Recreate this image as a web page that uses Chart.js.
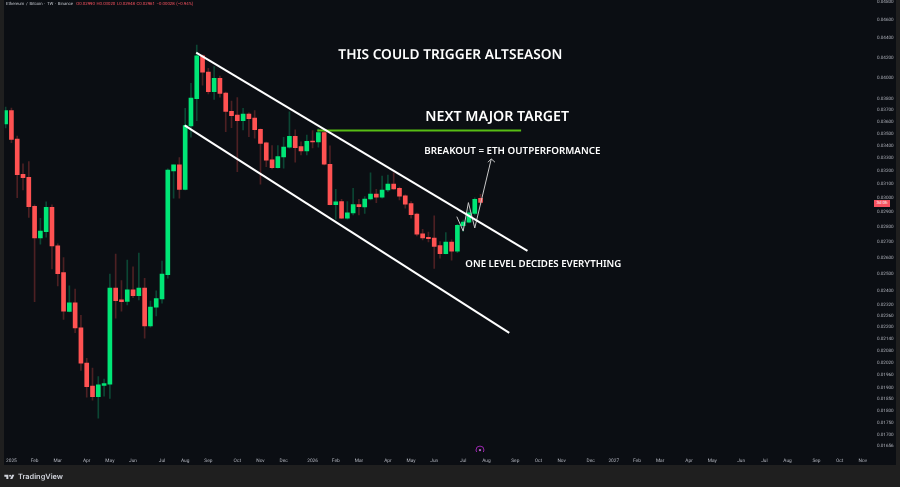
<!DOCTYPE html>
<html>
<head>
<meta charset="utf-8">
<script src="https://cdn.jsdelivr.net/npm/chart.js@4"></script>
<style>
  html, body { margin: 0; padding: 0; width: 900px; height: 487px; overflow: hidden; background: #1f1f1f; text-rendering: geometricPrecision; }
  #panel { position: absolute; left: 4px; top: 0; width: 892px; height: 465px; background: #0b0e13; }
  #wrap { position: absolute; left: 0; top: 0; width: 900px; height: 487px; }
  #header { position: absolute; left: 6px; top: 2px; font: 4.3px Roboto, sans-serif; color: #c4c7ce; white-space: pre; word-spacing: 0.6px; }
  #header span { color: #f7525f; margin-left: 1.5px; }
  #countdown { position: absolute; left: 874px; top: 200px; width: 16px; height: 7px; background: #f7525f; color: #fff; font: 4.4px/7px Roboto, sans-serif; text-align: center; }
  #brand { position: absolute; left: 4px; top: 470px; height: 13px; display: flex; align-items: center; font: 600 7.4px Inter, sans-serif; color: #d1d4dc; }
  #brand svg { width: 11px; height: 8px; margin-right: 3px; }
</style>
</head>
<body>
<div id="panel"></div>
<div id="wrap"><canvas id="chart" width="900" height="487"></canvas></div>
<div id="header">Ethereum / Bitcoin · 1W · Binance <span>O0.02990 H0.03020 L0.02948 C0.02961 −0.00028 (−0.94%)</span></div>
<div id="countdown">3d 0h</div>
<div id="brand">
  <svg viewBox="0 0 36 28"><path fill="#d1d4dc" d="M14 6H0v7h7v8h7V6Zm14 15h-8l7-15h8l-7 15ZM20 13a3.5 3.5 0 1 0 0-7 3.5 3.5 0 0 0 0 7Z"/></svg>
  TradingView
</div>
<script>
/* ==== weekly candles ==== */
const openPrices = [0.03575,0.03690,0.03448,0.03168,0.03145,0.02934,0.02719,0.02760,0.02927,0.02668,0.02502,0.02280,0.02328,0.02192,0.02014,0.01906,0.01858,0.01909,0.01915,0.02412,0.02344,0.02336,0.02401,0.02368,0.02411,0.02202,0.02304,0.02349,0.02490,0.03193,0.03240,0.03056,0.03558,0.03798,0.04208,0.04048,0.03862,0.03988,0.03850,0.03684,0.03652,0.03603,0.03661,0.03626,0.03529,0.03417,0.03279,0.03219,0.03303,0.03380,0.03469,0.03385,0.03350,0.03431,0.03423,0.03501,0.03245,0.02946,0.02967,0.02851,0.02887,0.02946,0.02929,0.02986,0.03022,0.02999,0.03051,0.03095,0.03063,0.03008,0.02953,0.02880,0.02747,0.02724,0.02719,0.02670,0.02619,0.02692,0.02634,0.02800,0.02825,0.02885,0.02990];
const highPrices = [0.03723,0.03714,0.03473,0.03248,0.03266,0.02944,0.02851,0.02965,0.02944,0.02681,0.02594,0.02424,0.02405,0.02259,0.02038,0.01990,0.01950,0.01938,0.02494,0.02617,0.02455,0.02579,0.02538,0.02622,0.02469,0.02338,0.02395,0.02573,0.03209,0.03240,0.03297,0.03711,0.03940,0.04320,0.04218,0.04084,0.04101,0.04010,0.03859,0.03777,0.03807,0.03711,0.03672,0.03690,0.03532,0.03423,0.03393,0.03393,0.03462,0.03681,0.03524,0.03425,0.03481,0.03518,0.03532,0.03524,0.03391,0.03056,0.02984,0.02967,0.03063,0.02984,0.03003,0.03180,0.03056,0.03155,0.03162,0.03180,0.03073,0.03015,0.02967,0.02887,0.02776,0.02758,0.02867,0.02696,0.02754,0.02707,0.02809,0.02839,0.02908,0.02994,0.03020];
const lowPrices = [0.03540,0.03417,0.02996,0.03051,0.02857,0.02334,0.02679,0.02724,0.02524,0.02424,0.02237,0.02277,0.02167,0.01979,0.01856,0.01843,0.01765,0.01861,0.01851,0.02243,0.02282,0.02316,0.02357,0.02344,0.02138,0.02195,0.02255,0.02325,0.02469,0.02991,0.02991,0.03051,0.03462,0.03603,0.03924,0.03841,0.03792,0.03811,0.03509,0.03543,0.03188,0.03524,0.03467,0.03454,0.03093,0.03227,0.03209,0.03214,0.03214,0.03372,0.03261,0.03318,0.03318,0.03374,0.03380,0.03240,0.02944,0.02844,0.02848,0.02844,0.02873,0.02873,0.02885,0.02979,0.02960,0.02991,0.03039,0.03056,0.02979,0.02920,0.02851,0.02732,0.02707,0.02694,0.02528,0.02590,0.02617,0.02579,0.02625,0.02760,0.02819,0.02873,0.02948];
const closePrices = [0.03690,0.03445,0.03165,0.03142,0.02932,0.02719,0.02765,0.02927,0.02668,0.02496,0.02282,0.02328,0.02192,0.02014,0.01904,0.01858,0.01912,0.01918,0.02412,0.02340,0.02334,0.02401,0.02368,0.02411,0.02202,0.02304,0.02351,0.02493,0.03201,0.03240,0.03056,0.03560,0.03804,0.04208,0.04046,0.03862,0.03988,0.03847,0.03684,0.03646,0.03603,0.03661,0.03620,0.03526,0.03412,0.03277,0.03219,0.03305,0.03382,0.03470,0.03377,0.03350,0.03429,0.03423,0.03501,0.03245,0.02946,0.02965,0.02851,0.02889,0.02946,0.02932,0.02986,0.03022,0.02999,0.03051,0.03095,0.03058,0.03006,0.02949,0.02875,0.02745,0.02719,0.02715,0.02664,0.02619,0.02692,0.02634,0.02803,0.02825,0.02889,0.02984,0.02961];

/* ==== axis ticks ==== */
const priceTicks = [0.048,0.046,0.044,0.042,0.040,0.038,0.037,0.036,0.035,0.034,0.033,0.032,0.031,0.030,0.029,0.028,0.027,0.026,0.025,0.024,0.0232,0.0226,0.022,0.0214,0.0208,0.0202,0.0196,0.019,0.0185,0.018,0.0175,0.017,0.01656];
const monthWeeks = [1,5,9,14,18,22,27,31,35,40,44,48,53,57,61,66,70,74,79,83,88,92,96,101,105,109,113,118,122,127,131,135,140,144,148];
const monthLabels = ["2025","Feb","Mar","Apr","May","Jun","Jul","Aug","Sep","Oct","Nov","Dec","2026","Feb","Mar","Apr","May","Jun","Jul","Aug","Sep","Oct","Nov","Dec","2027","Feb","Mar","Apr","May","Jun","Jul","Aug","Sep","Oct","Nov"];

/* ==== drawings on the chart ==== */
const upperChannelWeeks = [32.9, 90.1];
const upperChannelPrices = [0.04241, 0.02636];
const lowerChannelWeeks = [30.9, 86.96];
const lowerChannelPrices = [0.03563, 0.02166];
const targetWeeks = [53.8, 89.0];
const targetPrices = [0.03519, 0.03519];
const pathWeeks = [77.9, 79.0, 79.9, 81.0, 83.85];
const pathPrices = [0.02862, 0.02765, 0.02960, 0.02785, 0.03287];
const arrowWeeks = [83.28, 83.85, 84.49];
const arrowPrices = [0.03261, 0.03287, 0.03261];
const noteTexts = ["THIS COULD TRIGGER ALTSEASON", "NEXT MAJOR TARGET", "BREAKOUT = ETH OUTPERFORMANCE", "ONE LEVEL DECIDES EVERYTHING"];
const noteWeeks = [57.45, 72.46, 72.29, 79.37];
const notePrices = [0.04218, 0.03635, 0.03350, 0.02555];
const noteSizes = [13.7, 14.2, 9.8, 9.7];

const GREEN = "#00e676", RED = "#ff5252";
const weeks = openPrices.map((_, i) => i);
const isUp = weeks.map(i => closePrices[i] >= openPrices[i]);

const line = (xs, ys, color, width) => ({
  type: "line", order: 0, data: xs.map((x, i) => ({ x, y: ys[i] })),
  borderColor: color, borderWidth: width, pointRadius: 0, tension: 0, fill: false
});

const notesPlugin = {
  id: "notes",
  beforeDraw(chart) { chart.ctx.textRendering = "geometricPrecision"; },
  afterDatasetsDraw(chart) {
    const { ctx, scales: { x, y } } = chart;
    ctx.save();
    ctx.fillStyle = "#ffffff";
    ctx.textBaseline = "middle";
    noteTexts.forEach((t, i) => {
      ctx.font = `600 ${noteSizes[i]}px "Noto Sans"`;
      ctx.fillText(t, x.getPixelForValue(noteWeeks[i]), y.getPixelForValue(notePrices[i]));
    });
    ctx.restore();
  }
};

new Chart(document.getElementById("chart"), {
  type: "bar",
  plugins: [notesPlugin],
  data: {
    datasets: [
      line(upperChannelWeeks, upperChannelPrices, "#ffffff", 2),
      line(lowerChannelWeeks, lowerChannelPrices, "#ffffff", 2),
      line(targetWeeks, targetPrices, "#58bd14", 2),
      line(pathWeeks, pathPrices, "#c9c9c9", 1),
      line(arrowWeeks, arrowPrices, "#c9c9c9", 1),
      // event marker on the time axis
      {
        type: "line", order: 0, showLine: false, data: [{ x: 81.9, y: 0.01635 }],
        pointRadius: 4, pointBorderWidth: 1, pointBorderColor: "#9c27b0", pointBackgroundColor: "transparent"
      },
      {
        type: "line", order: 0, showLine: false, data: [{ x: 81.9, y: 0.01635 }],
        pointRadius: 1.2, pointBorderWidth: 0, pointBackgroundColor: "#b05cc4"
      },
      {
        order: 1, grouped: false, barThickness: 4, borderSkipped: false,
        data: weeks.map(i => ({ x: i, y: [openPrices[i], closePrices[i]] })),
        backgroundColor: weeks.map(i => isUp[i] ? GREEN : RED)
      },
      {
        order: 2, grouped: false, barThickness: 1, borderSkipped: false,
        data: weeks.map(i => ({ x: i, y: [lowPrices[i], highPrices[i]] })),
        backgroundColor: weeks.map(i => isUp[i] ? "#0c4634" : "#4d2023")
      }
    ]
  },
  options: {
    responsive: false,
    animation: false,
    layout: { autoPadding: false, padding: { left: 4, right: 4, top: 0, bottom: 22 } },
    plugins: { legend: { display: false }, tooltip: { enabled: false } },
    scales: {
      x: {
        type: "linear",
        offset: false,
        min: -0.173,
        max: 149.93,
        grid: { display: false, drawTicks: false },
        border: { display: false },
        afterBuildTicks: s => { s.ticks = monthWeeks.map(value => ({ value })); },
        afterFit: s => { s.height = 13; },
        ticks: {
          autoSkip: false, maxRotation: 0, padding: 6, color: "#b2b5be",
          font: { size: 4.8, family: "Roboto" },
          callback: v => monthLabels[monthWeeks.indexOf(v)]
        }
      },
      y: {
        type: "logarithmic",
        position: "right",
        min: 0.016275,
        max: 0.04812,
        grid: { display: false, drawTicks: false },
        border: { display: false },
        afterBuildTicks: s => { s.ticks = priceTicks.map(value => ({ value })); },
        afterFit: s => { s.width = 22; s.paddingTop = 0; s.paddingBottom = 0; },
        ticks: {
          autoSkip: false, padding: 3, labelOffset: 0.7, color: "#b2b5be",
          font: { size: 4.6, family: "Roboto" },
          callback: v => v.toFixed(5)
        }
      }
    }
  }
});
</script>
</body>
</html>
